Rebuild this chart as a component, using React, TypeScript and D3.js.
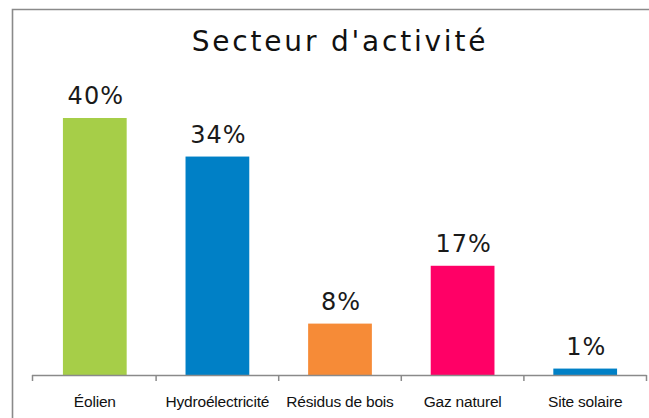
import React from "react";
import * as d3 from "d3";

const categories = ["Éolien", "Hydroélectricité", "Résidus de bois", "Gaz naturel", "Site solaire"];
const values = [40, 34, 8, 17, 1];
const colors = ["#A6CE48", "#0080C6", "#F68B37", "#FF0066", "#0080C6"];
const title = "Secteur d'activité";

const W = 649;
const H = 418;

export default function App() {
  const x = d3.scaleBand<string>().domain(categories).range([33.5, 646.5]).padding(0);
  const y = d3.scaleLinear().domain([0, 40]).range([375, 118]);
  const bw = x.bandwidth() * 0.52;
  const ticks = [...categories.map((c) => x(c)!), x.range()[1]];
  return (
    <svg width={W} height={H} style={{ position: "absolute", left: 0, top: 0, background: "#fff" }}>
      <rect x={0} y={0} width={W} height={H} fill="#fff" />
      <path d={`M12.5,${H} V9.5 H${W}`} fill="none" stroke="#8a8a8a" strokeWidth={1.6} />
      <text
        x={340}
        y={51}
        textAnchor="middle"
        fontFamily="DejaVu Sans"
        fontSize={28}
        letterSpacing={2.8}
        fill="#111"
      >
        {title}
      </text>
      {categories.map((c, i) => (
        <g key={c}>
          <rect
            x={x(c)! + (x.bandwidth() - bw) / 2}
            y={y(values[i])}
            width={bw}
            height={y(0) - y(values[i])}
            fill={colors[i]}
          />
          <text
            x={x(c)! + x.bandwidth() / 2 + 1}
            y={y(values[i]) - 14}
            textAnchor="middle"
            fontFamily="DejaVu Sans"
            fontSize={24}
            letterSpacing={1}
            fill="#1a1a1a"
          >
            {values[i]}%
          </text>
          <text
            x={x(c)! + x.bandwidth() / 2}
            y={407}
            textAnchor="middle"
            fontFamily="Liberation Sans, Arial, sans-serif"
            fontSize={15.5}
            letterSpacing={-0.2}
            fill="#111"
          >
            {c}
          </text>
        </g>
      ))}
      <line x1={32} x2={646.5} y1={375.5} y2={375.5} stroke="#8a8a8a" strokeWidth={1.5} />
      {ticks.map((t, i) => (
        <line key={i} x1={i === 0 ? 32.5 : t} x2={i === 0 ? 32.5 : t} y1={375} y2={381} stroke="#8a8a8a" strokeWidth={1.5} />
      ))}
    </svg>
  );
}
